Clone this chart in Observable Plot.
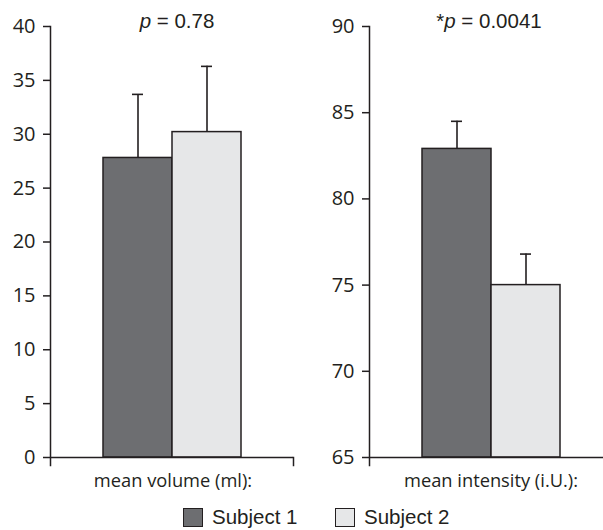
<!DOCTYPE html>
<html>
<head>
<meta charset="utf-8">
<script src="https://cdn.jsdelivr.net/npm/d3@7"></script>
<script src="https://cdn.jsdelivr.net/npm/@observablehq/plot@0.6"></script>
<style>
  html, body { margin: 0; padding: 0; background: #fff; }
  #wrap { position: relative; width: 603px; height: 530px; overflow: hidden; font-family: "Open Sans", sans-serif; color: #231f20; }
  .panel { position: absolute; top: 0; }
  .ptitle { position: absolute; font-family: "Liberation Sans", Arial, sans-serif; font-size: 20.5px; white-space: nowrap; transform: translateX(-50%); }
  .xlab { position: absolute; font-family: "Open Sans", sans-serif; font-size: 18.3px; white-space: nowrap; transform: translateX(-50%); }
  .leg { position: absolute; top: 505px; font-family: "Liberation Sans", Arial, sans-serif; font-size: 20.5px; white-space: nowrap; display: flex; align-items: center; }
  .sw { display: inline-block; width: 20px; height: 19px; border: 1.3px solid #231f20; box-sizing: border-box; margin-right: 9px; }
</style>
</head>
<body>
<div id="wrap"></div>
<script>
// ---- data ----
const subjects = ["Subject 1", "Subject 2"];
const colors = ["#6d6e71", "#e6e7e8"];

const volumeMeans = [27.8, 30.2];
const volumeUpper = [33.7, 36.3];
const volumeTicks = [0, 5, 10, 15, 20, 25, 30, 35, 40];
const volumeLabel = "mean volume (ml):";
const volumeP = "0.78";

const intensityMeans = [82.9, 75.0];
const intensityUpper = [84.5, 76.8];
const intensityTicks = [65, 70, 75, 80, 85, 90];
const intensityLabel = "mean intensity (i.U.):";
const intensityP = "0.0041";

const ink = "#231f20";

function panel({means, upper, ticks, width, xRange, marginLeft, marginRight, endTick}) {
  const data = subjects.map((s, i) => ({subject: s, mean: means[i], upper: upper[i]}));
  const base = ticks[0];
  const marks = [
    Plot.ruleX(data, {x: "subject", y1: "mean", y2: "upper", stroke: ink, strokeWidth: 1.6}),
    Plot.tickY(data, {x: "subject", y: "upper", stroke: ink, strokeWidth: 1.6, insetLeft: 29, insetRight: 29}),
    Plot.barY(data, {x: "subject", y1: () => base, y2: "mean", fill: "subject", stroke: ink, strokeWidth: 1.5}),
    Plot.frame({anchor: "left", stroke: ink, strokeWidth: 1.5, insetBottom: -8}),
    Plot.ruleY([base], {stroke: ink, strokeWidth: 1.5}),
    Plot.axisY({ticks, tickSize: 7, tickPadding: 8, label: null, stroke: ink, strokeWidth: 1.5, fill: ink, fontSize: 20})
  ];
  if (endTick) marks.push(Plot.frame({anchor: "right", stroke: ink, strokeWidth: 1.5, insetTop: 431, insetBottom: -8}));
  const svg = Plot.plot({
    width, height: 470,
    marginTop: 26, marginBottom: 13, marginLeft, marginRight,
    style: {fontFamily: "'Open Sans', sans-serif", fontSize: "20px", color: ink, background: "white"},
    x: {domain: subjects, range: xRange, paddingInner: 0, paddingOuter: 0.743, axis: null},
    y: {domain: [ticks[0], ticks[ticks.length - 1]], axis: null},
    color: {domain: subjects, range: colors},
    marks
  });
  d3.select(svg).selectAll("text")
    .style("font-size", "20px")
    .style("font-family", "'Open Sans', sans-serif");
  return svg;
}

const wrap = document.getElementById("wrap");

const left = panel({means: volumeMeans, upper: volumeUpper, ticks: volumeTicks, width: 300, xRange: [50, 293], marginLeft: 50, marginRight: 7, endTick: true});
left.classList.add("panel"); left.style.left = "0px";
wrap.appendChild(left);

const right = panel({means: intensityMeans, upper: intensityUpper, ticks: intensityTicks, width: 303, xRange: [69, 312.7], marginLeft: 69, marginRight: 0, endTick: false});
right.classList.add("panel"); right.style.left = "300px";
wrap.appendChild(right);

function addDiv(cls, html, x, y) {
  const d = document.createElement("div");
  d.className = cls; d.innerHTML = html;
  d.style.left = x + "px"; d.style.top = y + "px";
  wrap.appendChild(d);
  return d;
}
addDiv("ptitle", "<i>p</i> = " + volumeP, 177, 9);
addDiv("ptitle", "*<i>p</i> = " + intensityP, 489, 9);
addDiv("xlab", volumeLabel, 173, 467);
addDiv("xlab", intensityLabel, 491, 467);

const l1 = document.createElement("div");
l1.className = "leg"; l1.style.left = "183px";
l1.innerHTML = `<span class="sw" style="background:${colors[0]}"></span>${subjects[0]}`;
wrap.appendChild(l1);
const l2 = document.createElement("div");
l2.className = "leg"; l2.style.left = "335px";
l2.innerHTML = `<span class="sw" style="background:${colors[1]}"></span>${subjects[1]}`;
wrap.appendChild(l2);
</script>
</body>
</html>
